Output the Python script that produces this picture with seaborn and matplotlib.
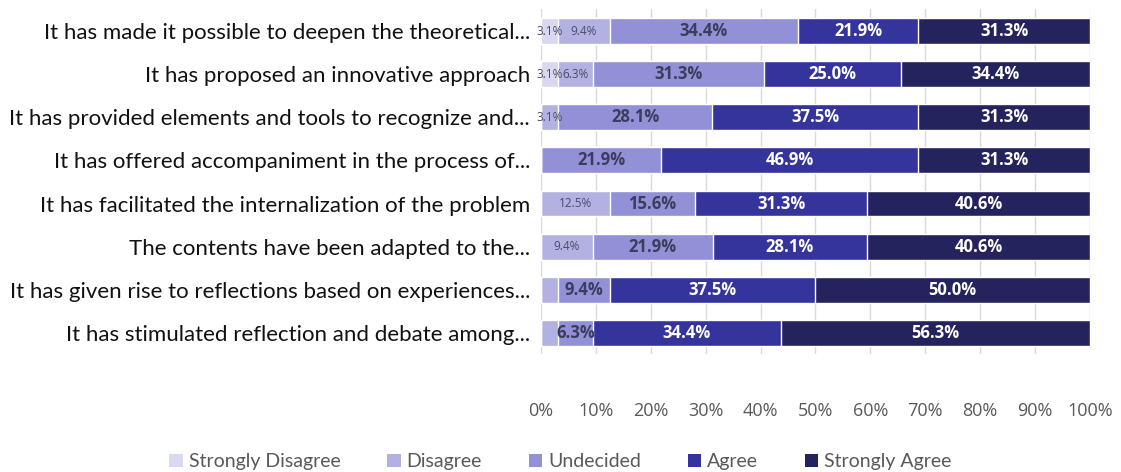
import numpy as np
import pandas as pd
import matplotlib
matplotlib.use("Agg")
import matplotlib.pyplot as plt
import seaborn as sns
from matplotlib.patches import Patch

statements = [
    "It has made it possible to deepen the theoretical...",
    "It has proposed an innovative approach",
    "It has provided elements and tools to recognize and...",
    "It has offered accompaniment in the process of...",
    "It has facilitated the internalization of the problem",
    "The contents have been adapted to the...",
    "It has given rise to reflections based on experiences...",
    "It has stimulated reflection and debate among...",
]
levels = ["Strongly Disagree", "Disagree", "Undecided", "Agree", "Strongly Agree"]
strongly_disagree = [3.1, 3.1, 0.0, 0.0, 0.0, 0.0, 0.0, 0.0]
disagree = [9.4, 6.3, 3.1, 0.0, 12.5, 9.4, 3.1, 3.1]
undecided = [34.4, 31.3, 28.1, 21.9, 15.6, 21.9, 9.4, 6.3]
agree = [21.9, 25.0, 37.5, 46.9, 31.3, 28.1, 37.5, 34.4]
strongly_agree = [31.3, 34.4, 31.3, 31.3, 40.6, 40.6, 50.0, 56.3]
# labels hidden behind neighbouring labels in the original
hidden_labels = {(6, "Disagree"), (7, "Disagree")}

colors = {
    "Strongly Disagree": "#d8d8ee",
    "Disagree": "#b2b1e2",
    "Undecided": "#9290d6",
    "Agree": "#35349c",
    "Strongly Agree": "#25235e",
}

series = [strongly_disagree, disagree, undecided, agree, strongly_agree]
vals = np.array(series, dtype=float).T  # rows x levels
totals = vals.sum(axis=1, keepdims=True)
pct = vals / totals * 100
cum = np.cumsum(pct, axis=1)

sns.set_theme(style="white")
plt.rcParams["font.family"] = ["Lato", "DejaVu Sans"]
lab_family = ["Open Sans", "DejaVu Sans"]

fig = plt.figure(figsize=(11.21, 4.72), dpi=100)
ax = fig.add_axes([0.4826, 0.249, 0.4897, 0.731])

ax.set_axisbelow(True)
ax.xaxis.grid(True, color="#d9d9d9", linewidth=1)

for j in reversed(range(len(levels))):
    df = pd.DataFrame({"statement": statements, "value": cum[:, j]})
    sns.barplot(data=df, y="statement", x="value", color=colors[levels[j]],
                width=0.6, ax=ax, saturation=1, order=statements, zorder=2)

for i in range(len(statements)):
    for j, lev in enumerate(levels):
        v = vals[i, j]
        if v <= 0 or (i, lev) in hidden_labels:
            continue
        left = cum[i, j] - pct[i, j]
        xc = left + pct[i, j] / 2
        if lev in ("Strongly Disagree", "Disagree"):
            ax.text(xc, i, f"{v:.1f}%", ha="center", va="center", fontsize=8.5,
                    color="#4a4a6a", zorder=3, family=lab_family)
        elif lev == "Undecided":
            ax.text(xc, i, f"{v:.1f}%", ha="center", va="center", fontsize=12,
                    color="#3c3c5c", fontweight="bold", zorder=3, family=lab_family)
        else:
            ax.text(xc, i, f"{v:.1f}%", ha="center", va="center", fontsize=12,
                    color="white", fontweight="bold", zorder=3, family=lab_family)

ax.set_xlim(0, 100)
ax.set_ylim(len(statements) - 0.5, -0.5)
ax.set_xticks(np.arange(0, 101, 10))
ax.set_xticklabels([f"{t}%" for t in range(0, 101, 10)], color="#595959",
                   fontsize=13, family=lab_family)
ax.tick_params(axis="x", length=0, pad=34)
ax.tick_params(axis="y", length=0, pad=8, labelsize=16, labelcolor="#111111")
ax.set_xlabel("")
ax.set_ylabel("")
for s in ax.spines.values():
    s.set_visible(False)

handles = [Patch(facecolor=colors[l], edgecolor="none", label=l) for l in levels]
fig.legend(handles=handles, loc="center", bbox_to_anchor=(0.5, 0.022), ncol=5,
           frameon=False, fontsize=14, handlelength=0.7, handleheight=0.7,
           handletextpad=0.3, columnspacing=2.4, labelcolor="#595959")

fig.savefig("out.png", dpi=100)
